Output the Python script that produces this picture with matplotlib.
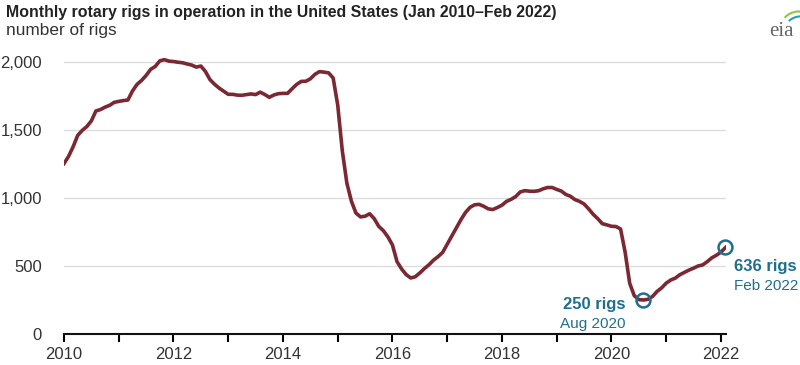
import numpy as np
import matplotlib.pyplot as plt
from matplotlib.patches import Arc

plt.rcParams['font.family'] = ['Liberation Sans', 'DejaVu Sans']

# monthly rotary rigs, Jan 2010 - Feb 2022
rigs_2010 = [1253, 1306, 1377, 1460, 1497, 1525, 1567, 1640, 1650, 1668, 1681, 1703]
rigs_2011 = [1710, 1716, 1720, 1786, 1835, 1864, 1901, 1946, 1967, 2008, 2017, 2006]
rigs_2012 = [2003, 1998, 1994, 1985, 1977, 1962, 1970, 1930, 1870, 1836, 1808, 1785]
rigs_2013 = [1762, 1762, 1756, 1755, 1760, 1765, 1760, 1778, 1761, 1740, 1757, 1767]
rigs_2014 = [1769, 1769, 1803, 1835, 1857, 1858, 1876, 1909, 1929, 1925, 1920, 1882]
rigs_2015 = [1683, 1348, 1110, 976, 889, 861, 866, 884, 848, 791, 760, 714]
rigs_2016 = [654, 532, 478, 437, 412, 421, 449, 481, 509, 543, 569, 600]
rigs_2017 = [660, 720, 780, 840, 893, 931, 950, 953, 939, 920, 915, 930]
rigs_2018 = [947, 975, 990, 1010, 1044, 1054, 1050, 1049, 1053, 1067, 1077, 1077]
rigs_2019 = [1063, 1051, 1026, 1013, 988, 975, 956, 920, 880, 848, 811, 802]
rigs_2020 = [792, 790, 772, 602, 373, 282, 253, 250, 255, 276, 313, 339]
rigs_2021 = [374, 397, 411, 436, 453, 470, 484, 500, 508, 532, 560, 579]
rigs_2022 = [602, 636]

rigs = (rigs_2010 + rigs_2011 + rigs_2012 + rigs_2013 + rigs_2014 + rigs_2015 +
        rigs_2016 + rigs_2017 + rigs_2018 + rigs_2019 + rigs_2020 + rigs_2021 + rigs_2022)
t = 2010 + np.arange(len(rigs)) / 12

low_idx = 127    # Aug 2020
last_idx = len(rigs) - 1  # Feb 2022

line_color = '#7b2833'
teal = '#1f6f8d'

fig = plt.figure(figsize=(8, 3.65), dpi=100)
ax = fig.add_axes([0.08, 0.0849, 0.828, 0.764])

ax.plot(t, rigs, color=line_color, lw=2.6, solid_joinstyle='round', zorder=3)
ax.plot([t[low_idx], t[last_idx]], [rigs[low_idx], rigs[last_idx]], 'o', ms=10,
        mfc='none', mec=teal, mew=1.8, zorder=4, clip_on=False)

ax.set_xlim(2010, 2022.1)
ax.set_ylim(0, 2050)
ax.set_yticks([0, 500, 1000, 1500, 2000])
ax.set_yticklabels(['0', '500', '1,000', '1,500', '2,000'])
ax.set_xticks(range(2010, 2023, 2))
ax.set_xticks(range(2011, 2023, 2), minor=True)
ax.grid(axis='y', color='#dddddd', lw=1)
ax.set_axisbelow(True)
for s in ['top', 'right', 'left']:
    ax.spines[s].set_visible(False)
ax.spines['bottom'].set_linewidth(1.5)
ax.spines['bottom'].set_color('#111111')
ax.tick_params(axis='y', length=0, pad=16, labelsize=12, labelcolor='#333333')
ax.tick_params(axis='x', which='both', length=6, width=1.5, labelsize=12,
               labelcolor='#333333', pad=3)

ax.annotate('250 rigs', (t[low_idx], rigs[low_idx]), xytext=(-13, -3),
            textcoords='offset points', ha='right', va='center',
            fontsize=12, fontweight='bold', color=teal)
ax.annotate('Aug 2020', (t[low_idx], rigs[low_idx]), xytext=(-13, -17),
            textcoords='offset points', ha='right', va='center',
            fontsize=11, color=teal)
ax.annotate('636 rigs', (t[last_idx], rigs[last_idx]), xytext=(6, -14),
            textcoords='offset points', ha='left', va='center',
            fontsize=12, fontweight='bold', color=teal, annotation_clip=False)
ax.annotate('Feb 2022', (t[last_idx], rigs[last_idx]), xytext=(6, -28),
            textcoords='offset points', ha='left', va='center',
            fontsize=11, color=teal, annotation_clip=False)

fig.text(0.008, 0.966, 'Monthly rotary rigs in operation in the United States (Jan 2010\u2013Feb 2022)',
         fontsize=11.4, fontweight='bold', color='#222222', va='center')
fig.text(0.008, 0.917, 'number of rigs', fontsize=12.4, color='#333333', va='center')

# eia logo
fig.text(0.977, 0.915, 'eia', family='Liberation Serif', fontsize=15, color='#666666',
         ha='center', va='center')
logo = fig.add_axes([0.96, 0.91, 0.045, 0.09])
logo.set_xlim(0, 1)
logo.set_ylim(0, 1)
logo.axis('off')
logo.add_patch(Arc((0.85, 0.0), 1.1, 1.3, theta1=60, theta2=130, color='#8dc63f', lw=1.5))
logo.add_patch(Arc((0.9, -0.1), 1.0, 1.2, theta1=55, theta2=125, color='#2a9cc0', lw=1.5))

fig.savefig('out.png', dpi=100)
